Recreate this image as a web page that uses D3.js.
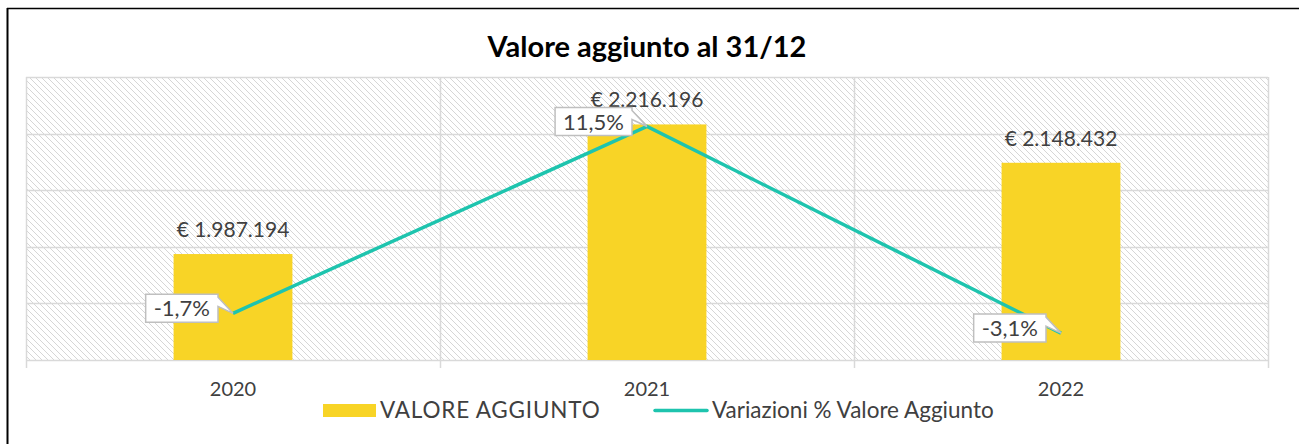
<!DOCTYPE html>
<html>
<head>
<meta charset="utf-8">
<script src="https://cdn.jsdelivr.net/npm/d3@7"></script>
<style>
body { margin: 0; background: #fff; }
svg { display: block; font-family: Lato, "Open Sans", sans-serif; }
</style>
</head>
<body>
<svg width="1299" height="444"></svg>
<script>
// Valore aggiunto al 31/12: bars + line of % variation

var years = ["2020", "2021", "2022"];
var valoreAggiunto = [1987194, 2216196, 2148432];
var variazioni = [-1.7, 11.5, -3.1];
var valueDomain = [1800000, 2300000];
var pctDomain = [-5, 15];

var itLocale = d3.formatLocale({decimal: ",", thousands: ".", grouping: [3], currency: ["€ ", ""], minus: "-"});
var fmtEuro = itLocale.format("$,.0f");
var fmtPct = d => itLocale.format(".1f")(d) + "%";

var svg = d3.select("svg");
var textColor = "#404040";
var gridColor = "#d9d9d9";

var plot = {left: 26, right: 1268, top: 77, bottom: 360};

var x = d3.scaleBand().domain(years).range([plot.left, plot.right]);
var y = d3.scaleLinear().domain(valueDomain).range([plot.bottom, plot.top]);
var y2 = d3.scaleLinear().domain(pctDomain).range([plot.bottom, plot.top]);

// hatch pattern for the plot background
var defs = svg.append("defs");
defs.append("pattern")
	.attr("id", "hatch")
	.attr("patternUnits", "userSpaceOnUse")
	.attr("width", 6).attr("height", 6)
	.append("path")
	.attr("d", "M0,0L6,6M-1,5L1,7M5,-1L7,1")
	.attr("stroke", "#d6d6d6")
	.attr("stroke-width", 1);

// chart frame (only top and left visible)
svg.append("line").attr("x1", 7.5).attr("x2", 7.5).attr("y1", 8).attr("y2", 444)
	.attr("stroke", "#000").attr("stroke-width", 2);
svg.append("line").attr("x1", 7).attr("x2", 1299).attr("y1", 8.5).attr("y2", 8.5)
	.attr("stroke", "#000").attr("stroke-width", 1.5);

svg.append("rect")
	.attr("x", plot.left).attr("y", plot.top)
	.attr("width", plot.right - plot.left).attr("height", plot.bottom - plot.top)
	.attr("fill", "url(#hatch)");

// horizontal gridlines
svg.append("g").selectAll("line")
	.data(y.ticks(5))
	.enter().append("line")
	.attr("x1", plot.left).attr("x2", plot.right)
	.attr("y1", d => Math.round(y(d)) + 0.5).attr("y2", d => Math.round(y(d)) + 0.5)
	.attr("stroke", gridColor).attr("stroke-width", 1.5);

// category separators / ticks
var bounds = years.map(d => x(d)).concat([plot.right]);
svg.append("g").selectAll("line")
	.data(bounds)
	.enter().append("line")
	.attr("x1", d => Math.round(d) + 0.5).attr("x2", d => Math.round(d) + 0.5)
	.attr("y1", plot.top).attr("y2", plot.bottom + 8)
	.attr("stroke", gridColor).attr("stroke-width", 1.5);

// bars
var barW = x.bandwidth() * 0.287;
svg.append("g").selectAll("rect")
	.data(years)
	.enter().append("rect")
	.attr("x", d => x(d) + x.bandwidth() / 2 - barW / 2)
	.attr("y", (d, i) => y(valoreAggiunto[i]))
	.attr("width", barW)
	.attr("height", (d, i) => plot.bottom - y(valoreAggiunto[i]))
	.attr("fill", "#F8D426");

// bar labels
svg.append("g").selectAll("text")
	.data(years)
	.enter().append("text")
	.attr("x", d => x(d) + x.bandwidth() / 2)
	.attr("y", (d, i) => y(valoreAggiunto[i]) - 17)
	.attr("text-anchor", "middle")
	.attr("font-size", 21)
	.attr("fill", textColor)
	.text((d, i) => fmtEuro(valoreAggiunto[i]));

// variation line
var line = d3.line()
	.x(d => x(d.year) + x.bandwidth() / 2)
	.y(d => y2(d.v));
var pts = years.map((d, i) => ({year: d, v: variazioni[i]}));
svg.append("path")
	.datum(pts)
	.attr("d", line)
	.attr("fill", "none")
	.attr("stroke", "#1EC4AE")
	.attr("stroke-width", 3.5);

// callout labels
var callouts = svg.append("g").selectAll("g")
	.data(pts)
	.enter().append("g");
callouts.each(function(d) {
	var g = d3.select(this);
	var px = x(d.year) + x.bandwidth() / 2;
	var py = y2(d.v);
	var t = g.append("text")
		.attr("font-size", 22)
		.attr("fill", textColor)
		.attr("text-anchor", "middle")
		.text(fmtPct(d.v));
	var w = t.node().getComputedTextLength() + 16;
	var r = px - 15, l = r - w, top = py - 19, bot = py + 9;
	g.insert("path", "text")
		.attr("d", "M" + l + "," + top + "L" + r + "," + top + "L" + r + "," + (top + 3)
			+ "L" + px + "," + py + "L" + r + "," + (top + 12)
			+ "L" + r + "," + bot + "L" + l + "," + bot + "Z")
		.attr("fill", "#fff")
		.attr("stroke", "#bfbfbf")
		.attr("stroke-width", 1.5);
	t.attr("x", (l + r) / 2).attr("y", bot - 6);
});

// x axis labels
svg.append("g").selectAll("text")
	.data(years)
	.enter().append("text")
	.attr("x", d => x(d) + x.bandwidth() / 2)
	.attr("y", 396)
	.attr("text-anchor", "middle")
	.attr("font-size", 20)
	.attr("fill", textColor)
	.text(d => d);

// title
svg.append("text")
	.attr("x", 647).attr("y", 57)
	.attr("text-anchor", "middle")
	.attr("font-size", 29)
	.attr("font-weight", "bold")
	.attr("fill", "#000")
	.text("Valore aggiunto al 31/12");

// legend
var leg = svg.append("g");
leg.append("rect").attr("x", 323).attr("y", 404).attr("width", 53).attr("height", 13).attr("fill", "#F8D426");
leg.append("text").attr("x", 380).attr("y", 418).attr("font-size", 22.5).attr("letter-spacing", 0.8)
	.attr("fill", textColor).text("VALORE AGGIUNTO");
leg.append("line").attr("x1", 655).attr("x2", 707).attr("y1", 410.5).attr("y2", 410.5)
	.attr("stroke", "#1EC4AE").attr("stroke-width", 3.5).attr("stroke-linecap", "round");
leg.append("text").attr("x", 712).attr("y", 418).attr("font-size", 22.5).attr("fill", textColor).text("Variazioni % Valore Aggiunto");
</script>
</body>
</html>
